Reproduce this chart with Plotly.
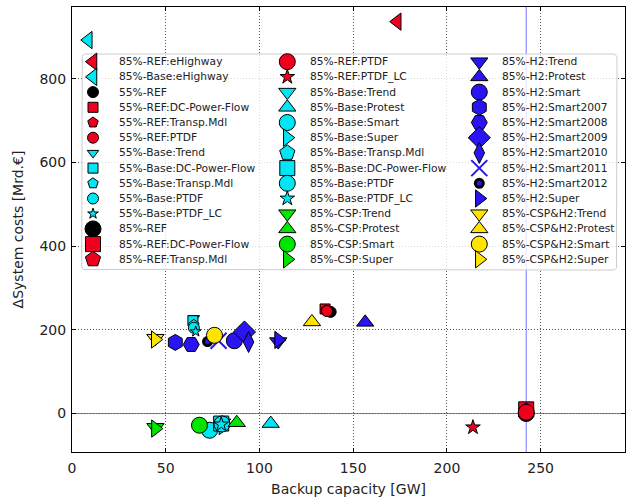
import math
import plotly.graph_objects as go

# ---------------- data ----------------
series = [
    "85%-REF:eHighway", "85%-Base:eHighway",
    "55%-REF", "55%-REF:DC-Power-Flow", "55%-REF:Transp.Mdl", "55%-REF:PTDF",
    "55%-Base:Trend", "55%-Base:DC-Power-Flow", "55%-Base:Transp.Mdl", "55%-Base:PTDF", "55%-Base:PTDF_LC",
    "85%-REF", "85%-REF:DC-Power-Flow", "85%-REF:Transp.Mdl",
    "85%-REF:PTDF", "85%-REF:PTDF_LC",
    "85%-Base:Trend", "85%-Base:Protest", "85%-Base:Smart", "85%-Base:Super",
    "85%-Base:Transp.Mdl", "85%-Base:DC-Power-Flow", "85%-Base:PTDF", "85%-Base:PTDF_LC",
    "85%-CSP:Trend", "85%-CSP:Protest", "85%-CSP:Smart", "85%-CSP:Super",
    "85%-H2:Trend", "85%-H2:Protest", "85%-H2:Smart", "85%-H2:Smart2007", "85%-H2:Smart2008",
    "85%-H2:Smart2009", "85%-H2:Smart2010", "85%-H2:Smart2011", "85%-H2:Smart2012", "85%-H2:Super",
    "85%-CSP&H2:Trend", "85%-CSP&H2:Protest", "85%-CSP&H2:Smart", "85%-CSP&H2:Super",
]
backup_gw = [
    173.5, 8.7,
    138.0, 135.0, 135.5, 136.0,
    65.0, 64.5, 65.0, 65.0, 66.0,
    242.3, 242.3, 242.3,
    242.3, 213.9,
    80.0, 106.0, 73.4, 80.5,
    80.0, 79.6, 80.0, 79.6,
    44.5, 87.9, 68.0, 44.5,
    110.0, 156.4, 86.6, 55.1, 63.6,
    92.0, 94.2, 78.2, 72.3, 110.2,
    44.5, 128.0, 76.0, 44.4,
]
delta_cost = [
    937, 893,
    243, 250, 247, 245,
    228, 222, 212, 205, 196,
    0, 10, 6,
    3, -33,
    -22, -24, -40, -30,
    -25, -24, -25, -26,
    -33, -22, -28, -36,
    172, 218, 174, 170, 165,
    195, 171, 174, 172, 176,
    180, 219, 187, 177,
]
x_ticks = [0, 50, 100, 150, 200, 250]
y_ticks = [0, 200, 400, 600, 800]

# ---------------- styles ----------------
RED, CYAN, GREEN, BLUE, YELLOW, BLACK = "#f0001e", "#00e6f5", "#00e600", "#2a14f2", "#ffe400", "#000000"
colors = [
    RED, CYAN,
    BLACK, RED, RED, RED,
    CYAN, CYAN, CYAN, CYAN, CYAN,
    BLACK, RED, RED, RED, RED,
    CYAN, CYAN, CYAN, CYAN, CYAN, CYAN, CYAN, CYAN,
    GREEN, GREEN, GREEN, GREEN,
    BLUE, BLUE, BLUE, BLUE, BLUE, BLUE, BLUE, BLUE, BLUE, BLUE,
    YELLOW, YELLOW, YELLOW, YELLOW,
]
symbols = [
    "triangle-left", "triangle-left",
    "circle", "square", "pentagon", "circle",
    "triangle-down", "square", "pentagon", "circle", "star",
    "circle", "square", "pentagon", "circle", "star",
    "triangle-down", "triangle-up", "circle", "triangle-right", "pentagon", "square", "circle", "star",
    "triangle-down", "triangle-up", "circle", "triangle-right",
    "triangle-down", "triangle-up", "circle", "hexagon", "hexagon2", "diamond", "diamond-tall",
    "x-thin", "circle", "triangle-right",
    "triangle-down", "triangle-up", "circle", "triangle-right",
]
SIZE_BY_SYMBOL = {"circle": 16, "square": 15, "pentagon": 16, "star": 11,
                  "triangle-left": 15, "triangle-right": 15, "triangle-up": 15, "triangle-down": 15,
                  "hexagon": 16, "hexagon2": 16, "diamond": 17, "diamond-tall": 15, "x-thin": 16}
sizes = []
edge_w = []
edge_c = []
for name, sym, col in zip(series, symbols, colors):
    s = SIZE_BY_SYMBOL[sym]
    w = 1
    ec = BLACK
    if name.startswith("55%"):
        s = round(s * 0.7)
    if name.endswith("Smart2012"):
        s, w = 8, 3
    if sym == "x-thin":
        w, ec = 2, col
    sizes.append(s)
    edge_w.append(w)
    edge_c.append(ec)

FONT = "DejaVu Sans"
TXT = "#222222"

fig = go.Figure()

# reference lines through the 85%-REF point
ref_i = series.index("85%-REF")
ref_x, ref_y = backup_gw[ref_i], delta_cost[ref_i]
fig.add_shape(type="line", xref="x", yref="paper", x0=ref_x, x1=ref_x, y0=0, y1=1,
              line=dict(color="rgba(60,60,255,0.7)", width=1), layer="between")
fig.add_shape(type="line", xref="paper", yref="y", x0=0, x1=1, y0=ref_y, y1=ref_y,
              line=dict(color="rgba(60,60,255,0.7)", width=1), layer="between")

for i, name in enumerate(series):
    fig.add_trace(go.Scatter(
        x=[backup_gw[i]], y=[delta_cost[i]], mode="markers", name=name, showlegend=False,
        marker=dict(symbol=symbols[i], size=sizes[i], color=colors[i], opacity=1,
                    line=dict(color=edge_c[i], width=edge_w[i])),
        cliponaxis=False,
    ))

# ---------------- hand-drawn legend (page-pixel overlay axes) ----------------
L_LEFT, L_RIGHT, L_TOP, L_BOT, RAD = 81.7, 617.0, 54.0, 270.0, 4.0
box_x, box_y = [], []
corners = [(L_RIGHT - RAD, L_TOP + RAD, -90, 0), (L_RIGHT - RAD, L_BOT - RAD, 0, 90),
           (L_LEFT + RAD, L_BOT - RAD, 90, 180), (L_LEFT + RAD, L_TOP + RAD, 180, 270)]
for cx, cy, a0, a1 in corners:
    for k in range(7):
        a = math.radians(a0 + (a1 - a0) * k / 6)
        box_x.append(cx + RAD * math.cos(a))
        box_y.append(cy + RAD * math.sin(a))
box_x.append(box_x[0]); box_y.append(box_y[0])
fig.add_trace(go.Scatter(x=box_x, y=box_y, xaxis="x2", yaxis="y2", mode="lines", fill="toself",
                         fillcolor="rgba(255,255,255,0.8)", line=dict(color="#cccccc", width=1),
                         hoverinfo="skip", showlegend=False))

ROWS = 14
col_mark_x = [93.0, 287.3, 479.3]
col_text_x = [116.7, 308.3, 500.0]
row0_y, row_dy = 61.7, 15.2
lx = [col_mark_x[i // ROWS] for i in range(len(series))]
ly = [row0_y + (i % ROWS) * row_dy for i in range(len(series))]
fig.add_trace(go.Scatter(
    x=lx, y=ly, xaxis="x2", yaxis="y2", mode="markers", showlegend=False, hoverinfo="skip",
    marker=dict(symbol=symbols, size=sizes, color=colors, opacity=1,
                line=dict(color=edge_c, width=edge_w)),
))
for i, name in enumerate(series):
    fig.add_annotation(x=col_text_x[i // ROWS], y=ly[i], xref="x2", yref="y2", text=name,
                       showarrow=False, xanchor="left", yanchor="middle",
                       font=dict(family=FONT, size=10.7, color=TXT))

axis_common = dict(showline=True, linecolor="black", linewidth=1, mirror="ticks",
                   ticks="inside", ticklen=4, tickcolor="black", showgrid=True,
                   gridcolor="#555555", gridwidth=1, griddash="1px,2px", zeroline=False,
                   tickfont=dict(family=FONT, size=14, color=TXT))

fig.update_layout(
    width=626, height=497, margin=dict(l=72, r=1, t=7, b=45),
    paper_bgcolor="white", plot_bgcolor="white", showlegend=False,
    xaxis=dict(range=[0, 295], tickvals=x_ticks, ticklabelstandoff=3, **axis_common,
               title=dict(text="Backup capacity [GW]", font=dict(family=FONT, size=14, color=TXT), standoff=9)),
    yaxis=dict(range=[-92, 972], tickvals=y_ticks, ticklabelstandoff=2, **axis_common,
               title=dict(text="ΔSystem costs [Mrd.€]", font=dict(family=FONT, size=14, color=TXT), standoff=12)),
    xaxis2=dict(overlaying="x", range=[72, 625], visible=False, fixedrange=True),
    yaxis2=dict(overlaying="y", range=[452, 7], visible=False, fixedrange=True),
)

fig.write_html("out.html")
